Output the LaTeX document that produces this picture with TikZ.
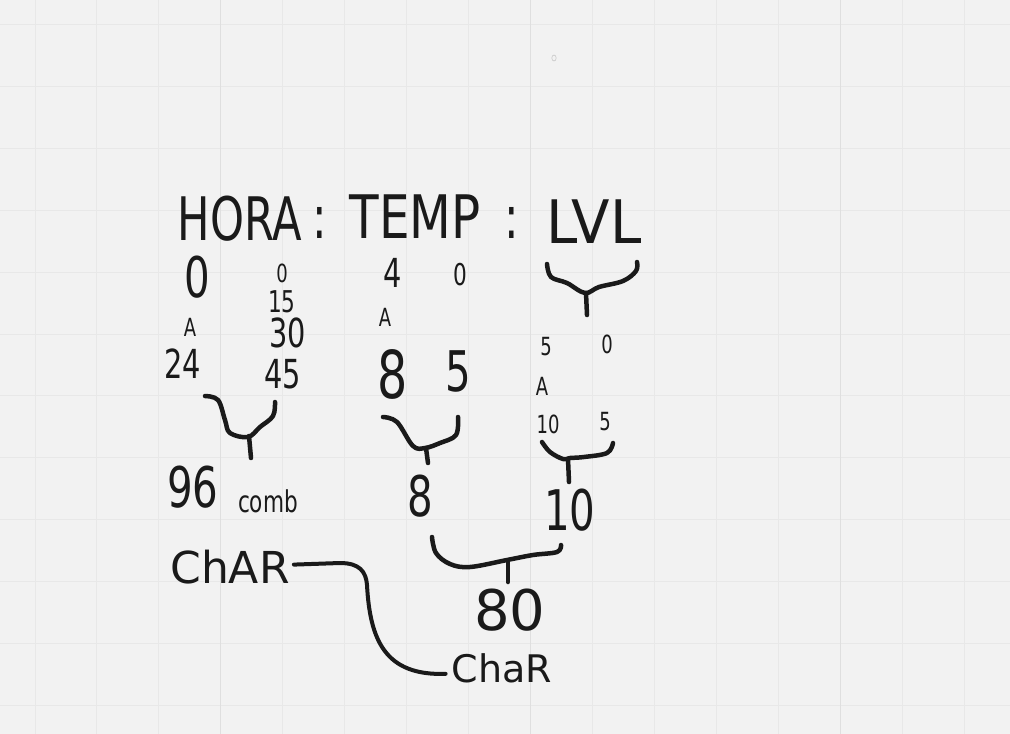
\documentclass[tikz,border=0pt]{standalone}
\usepackage{fontspec}
\setmainfont{DejaVu Sans}
\usetikzlibrary{positioning}

\definecolor{board}{HTML}{F2F2F2}
\definecolor{gridline}{HTML}{E8E8E8}
\definecolor{gridmajor}{HTML}{DFDFDF}
\definecolor{ink}{HTML}{1A1A1A}

\begin{document}
\begin{tikzpicture}[x=1pt,y=-1pt,line cap=round,line join=round,
  hand/.style={text=ink,inner sep=0pt,anchor=base,xscale=0.72},
  title node/.style={hand,font=\fontsize{60}{60}\selectfont},
  big node/.style={hand,font=\fontsize{56}{56}\selectfont},
  mid node/.style={hand,font=\fontsize{40}{40}\selectfont},
  small node/.style={hand,font=\fontsize{30}{30}\selectfont},
  tiny node/.style={hand,font=\fontsize{25}{25}\selectfont},
  brace/.style={draw=ink,line width=4.5pt},
  link/.style={draw=ink,line width=4pt}]

  % whiteboard
  \fill[board] (0,0) rectangle (1010,734);
  \useasboundingbox (0,0) rectangle (1010,734);
  \foreach \i in {0,...,15}
    \draw[gridline,line width=1pt] ({35+61.95*\i},0) -- ({35+61.95*\i},734);
  \foreach \j in {0,...,11}
    \draw[gridline,line width=1pt] (0,{24.5+61.9*\j}) -- (1010,{24.5+61.9*\j});
  \foreach \i in {3,8,13}
    \draw[gridmajor,line width=1.2pt] ({35+61.95*\i},0) -- ({35+61.95*\i},734);
  \draw[gray!45,line width=0.6pt] (554,58) ellipse (2.2 and 3);

  % header
  \node[title node] (hora) at (240,240) {HORA};
  \node[title node] (c1) at (320,238) {:};
  \node[title node,xscale=1.12] (temp) at (415,238) {TEMP};
  \node[title node] (c2) at (512,238) {:};
  \node[title node,xscale=1.3] (lvl) at (594,243) {LVL};

  % hora
  \node[big node] (h0) at (197,297) {0};
  \node[tiny node] (ha) at (190,336) {A};
  \node[mid node] (h24) at (183,378) {24};
  \node[tiny node] (m0) at (282,282) {0};
  \node[small node] (m15) at (282,312) {15};
  \node[mid node] (m30) at (288,347) {30};
  \node[mid node] (m45) at (283,388) {45};
  \node[big node] (n96) at (193,507) {96};
  \node[small node] (comb) at (268,512) {comb};

  % temp
  \node[mid node] (t4) at (393,287) {4};
  \node[small node] (t0) at (460,285) {0};
  \node[tiny node] (ta) at (385,326) {A};
  \node[hand,font=\fontsize{66}{66}\selectfont] (t8) at (393,398) {8};
  \node[big node] (t5) at (458,391) {5};
  \node[big node] (n8) at (420,516) {8};

  % lvl
  \node[tiny node] (l5) at (546,355) {5};
  \node[tiny node] (l0) at (607,353) {0};
  \node[tiny node] (la) at (542,395) {A};
  \node[tiny node] (l10) at (548,433) {10};
  \node[tiny node] (l5b) at (605,430) {5};
  \node[big node] (n10) at (570,530) {10};

  % total
  \node[big node,xscale=1.39] (n80) at (510,630) {80};
  \node[hand,xscale=1.39,font=\fontsize{44}{44}\selectfont] (char) at (230,583) {ChAR};
  \node[hand,xscale=1.39,font=\fontsize{38}{38}\selectfont] (char2) at (502,682) {ChaR};

  % braces
  \draw[brace] plot[smooth,tension=0.6] coordinates
    {(205,396) (218,400) (225,420) (230,433) (248,437) (260,427) (273,416) (275,402)};
  \draw[brace] (249,436) -- (251,458);

  \draw[brace] plot[smooth,tension=0.6] coordinates
    {(383,417) (397,422) (413,446) (425,448) (440,443) (456,435) (458,417)};
  \draw[brace] (426,448) -- (428,463);

  \draw[brace] plot[smooth,tension=0.6] coordinates
    {(547,264) (551,277) (567,283) (585,293) (599,287) (623,281) (636,271) (637,262)};
  \draw[brace] (586,293) -- (587,315);

  \draw[brace] plot[smooth,tension=0.6] coordinates
    {(542,442) (550,452) (563,459) (570,458) (584,457) (607,453) (613,443)};
  \draw[brace] (568,459) -- (569,482);

  \draw[brace] plot[smooth,tension=0.6] coordinates
    {(432,537) (436,553) (450,564) (470,567) (507,560) (533,555) (557,552) (561,545)};
  \draw[brace] (508,561) -- (508,582);

  % char link
  \path (char.east) ++(4,-2) coordinate (a)
    (char2.west) ++(-6,6) coordinate (b);
  \draw[link] (a) -- (340,563) .. controls (360,563) and (366,572) .. (367,585)
    .. controls (370,640) and (385,676) .. (b);

\end{tikzpicture}
\end{document}
